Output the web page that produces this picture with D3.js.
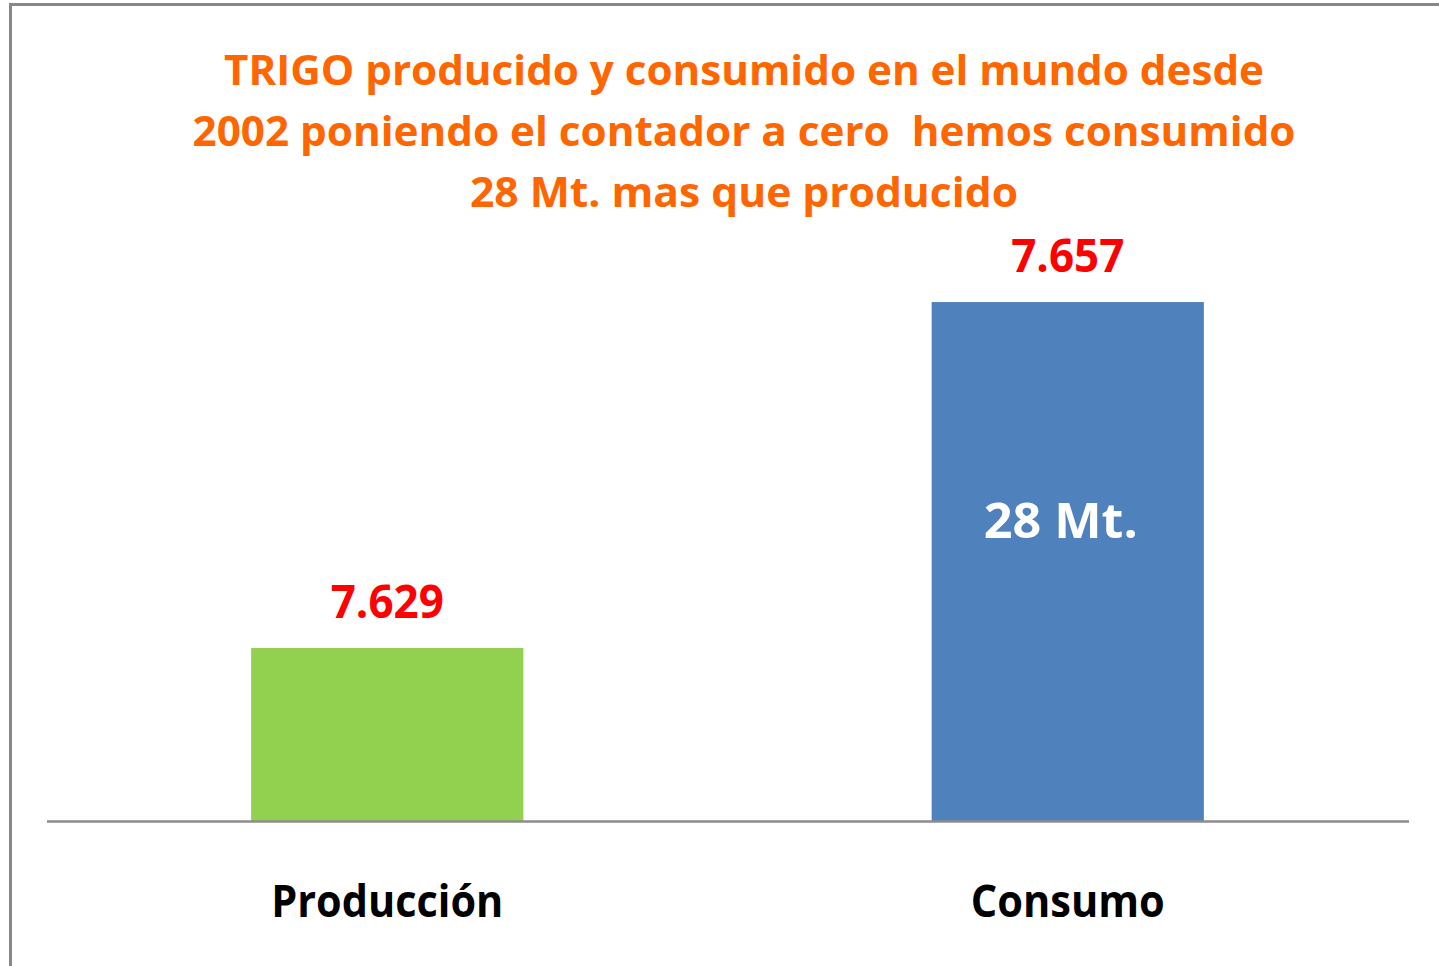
<!DOCTYPE html>
<html><head><meta charset="utf-8">
<script src="https://cdn.jsdelivr.net/npm/d3@7"></script>
<style>html,body{margin:0;padding:0;background:#fff;overflow:hidden}</style>
</head><body>
<svg id="c" width="1439" height="966"></svg>
<script>
const categories = ["Producción", "Consumo"];
const values = [7.629, 7.657];
const valueLabels = ["7.629", "7.657"];
const barColors = ["#92d050", "#4f81bd"];
const titleLines = [
  "TRIGO producido y consumido en el mundo desde",
  "2002 poniendo el contador a cero  hemos consumido",
  "28 Mt. mas que producido"
];
const innerLabel = "28 Mt.";
const yDomain = [7.615, 7.66];

const svg = d3.select("#c");
const FONT = "'Open Sans', Lato, sans-serif";

svg.append("rect").attr("x",10.5).attr("y",4.5).attr("width",1500).attr("height",1000)
  .attr("fill","#fff").attr("stroke","#888").attr("stroke-width",3);

const x = d3.scaleBand().domain(categories).range([47,1408]).paddingInner(0.6).paddingOuter(0.3);
const y = d3.scaleLinear().domain(yDomain).range([821, 265]);

function fit(sel, w){
  sel.each(function(){
    const L = this.getComputedTextLength();
    if (L > 0) d3.select(this).attr("textLength", w).attr("lengthAdjust","spacingAndGlyphs");
  });
}

// title
const titleW = [1040, 1103, 548];
const titleY = [85, 146, 207];
titleLines.forEach((t,i)=>{
  svg.append("text").attr("x",744).attr("y",titleY[i]).attr("text-anchor","middle")
    .attr("font-family",FONT).attr("font-weight","bold").attr("font-size",42)
    .attr("fill","#ff6600").attr("xml:space","preserve").text(t).call(fit, titleW[i]);
});

const data = categories.map((c,i)=>({c, v:values[i], lab:valueLabels[i], col:barColors[i]}));

svg.selectAll("rect.bar").data(data).enter().append("rect").attr("class","bar")
  .attr("x",d=>x(d.c)).attr("width",x.bandwidth())
  .attr("y",d=>y(d.v)).attr("height",d=>y(yDomain[0])-y(d.v))
  .attr("fill",d=>d.col);

// baseline axis
svg.append("line").attr("x1",47).attr("x2",1409).attr("y1",821.5).attr("y2",821.5)
  .attr("stroke","#8c8c8c").attr("stroke-width",2.5);

svg.selectAll("text.val").data(data).enter().append("text").attr("class","val")
  .attr("x",d=>x(d.c)+x.bandwidth()/2).attr("y",d=>y(d.v)-30)
  .attr("text-anchor","middle").attr("font-family",FONT).attr("font-weight","bold")
  .attr("font-size",46).attr("fill","#ff0000").text(d=>d.lab).call(fit,113);

const catW = [232, 194];
svg.selectAll("text.cat").data(data).enter().append("text").attr("class","cat")
  .attr("x",d=>x(d.c)+x.bandwidth()/2).attr("y",917)
  .attr("text-anchor","middle").attr("font-family",FONT).attr("font-weight","bold")
  .attr("font-size",44).attr("fill","#000").text(d=>d.c)
  .each(function(d,i){ d3.select(this).call(fit, catW[i]); });

svg.append("text").attr("x",x("Consumo")+x.bandwidth()/2-7).attr("y",538)
  .attr("text-anchor","middle").attr("font-family",FONT).attr("font-weight","bold")
  .attr("font-size",48).attr("fill","#fff").text(innerLabel).call(fit,154);
</script>
</body></html>
